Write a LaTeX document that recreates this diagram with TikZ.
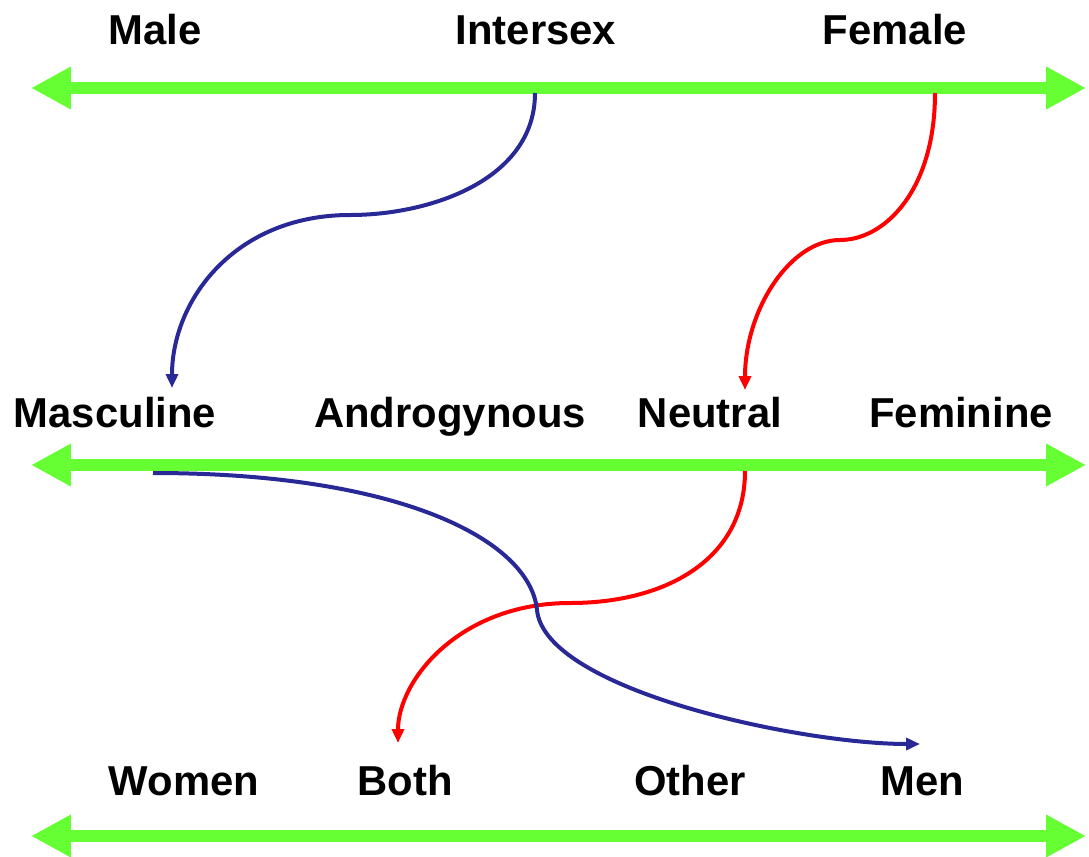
\documentclass[tikz,border=0pt]{standalone}
\usepackage{fontspec}
\setmainfont{Liberation Sans}
\usetikzlibrary{arrows.meta}
\definecolor{axisgreen}{RGB}{102,255,51}
\definecolor{linkblue}{RGB}{40,40,150}
\definecolor{linkred}{RGB}{255,0,0}
\begin{document}
\begin{tikzpicture}[x=0.02cm,y=-0.02cm,
  axis/.style={draw=axisgreen,line width=0.24cm,{Triangle[length=0.8cm,width=0.8cm]}-{Triangle[length=0.8cm,width=0.8cm]}},
  lbl/.style={anchor=base,inner sep=0pt,font=\fontsize{23.8pt}{28pt}\selectfont\bfseries},
  bluelink/.style={draw=linkblue,line width=0.08cm,-{Triangle[length=0.28cm,width=0.24cm]}},
  redlink/.style={draw=linkred,line width=0.08cm,-{Triangle[length=0.28cm,width=0.24cm]}}]
\useasboundingbox (0,0) rectangle (1089,856);
% axes
\coordinate (a1l) at (31,88); \coordinate (a1r) at (1086,88);
\coordinate (a2l) at (31,465); \coordinate (a2r) at (1086,465);
\coordinate (a3l) at (31,836); \coordinate (a3r) at (1086,836);
\draw[axis] (a1l) -- (a1r);
\draw[axis] (a2l) -- (a2r);
\draw[axis] (a3l) -- (a3r);
% labels
\node[lbl] (male) at (155,44) {Male};
\node[lbl] (intersex) at (536,44) {Intersex};
\node[lbl] (female) at (895,44) {Female};
\node[lbl] (masc) at (115,427) {Masculine};
\node[lbl] (andro) at (450,427) {Androgynous};
\node[lbl] (neutral) at (710,427) {Neutral};
\node[lbl] (fem) at (961,427) {Feminine};
\node[lbl] (women) at (184,795) {Women};
\node[lbl] (both) at (405,795) {Both};
\node[lbl] (other) at (690,795) {Other};
\node[lbl] (men) at (922,795) {Men};
% link endpoints
\coordinate (s1) at (535,93);
\coordinate (t1) at (172,388);
\coordinate (s2) at (935,93);
\coordinate (t2) at (745,390);
\coordinate (s3) at (153,473);
\coordinate (t3) at (920,744);
\coordinate (s4) at (745,471);
\coordinate (t4) at (398,743);
% links
\draw[bluelink] (s1) .. controls (535,180) and (430,215) .. (350,215)
  .. controls (235,215) and (172,300) .. (t1);
\draw[redlink] (s2) .. controls (935,190) and (885,240) .. (840,240)
  .. controls (790,240) and (745,310) .. (t2);
\draw[redlink] (s4) .. controls (745,560) and (665,603) .. (570,603)
  .. controls (460,603) and (398,680) .. (t4);
\draw[bluelink] (s3) .. controls (400,473) and (530,540) .. (537,610)
  .. controls (545,690) and (800,744) .. (t3);
\end{tikzpicture}
\end{document}
